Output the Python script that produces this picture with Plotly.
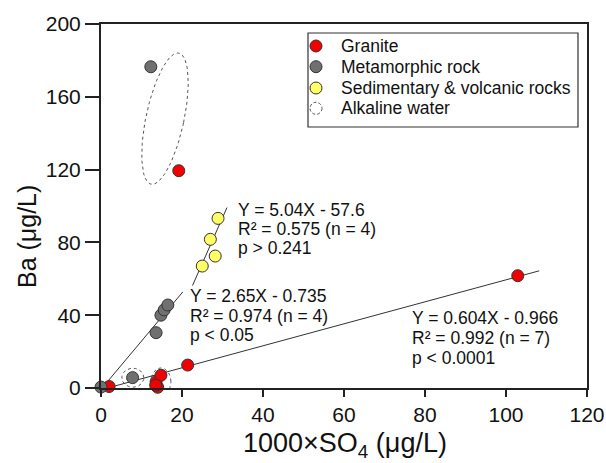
import numpy as np
import plotly.graph_objects as go

# ---------------- data ----------------
granite_x = [2.0, 13.6, 14.0, 14.8, 13.5, 21.4, 102.9, 19.2]
granite_y = [0.8, 3.5, 0.4, 7.0, 1.5, 12.6, 61.7, 119.4]
meta_x = [0.0, 7.8, 13.6, 14.8, 15.6, 16.5, 12.3]
meta_y = [0.5, 5.7, 30.4, 40.0, 42.9, 45.6, 176.5]
sed_x = [28.9, 27.0, 28.2, 25.0]
sed_y = [93.2, 81.7, 72.5, 67.0]

# regression fits: (slope, intercept, x_start, x_end)
fit_granite = (0.604, -0.966, 0.0, 108.2)
fit_meta = (2.65, -0.735, 0.0, 20.2)
fit_sed = (5.04, -57.6, 22.6, 31.1)

eq_granite = ["Y = 0.604X - 0.966", "R² = 0.992 (n = 7)", "p < 0.0001"]
eq_meta = ["Y = 2.65X - 0.735", "R² = 0.974 (n = 4)", "p < 0.05"]
eq_sed = ["Y = 5.04X - 57.6", "R² = 0.575 (n = 4)", "p > 0.241"]

legend_names = ["Granite", "Metamorphic rock", "Sedimentary & volcanic rocks", "Alkaline water"]

x_ticks = [0, 20, 40, 60, 80, 100, 120]
y_ticks = [0, 40, 80, 120, 160, 200]

# alkaline-water ellipses: centre (data), semi-axes (px), tilt (deg)
ellipses = [
    (15.8, 148.0, 19, 67, -12),
    (7.86, 5.66, 11, 9.5, 0),
    (14.8, 3.6, 10, 13.5, 0),
]

# ---------------- layout constants ----------------
W, H = 606, 463
ML, MR, MT, MB = 101, 19, 24, 75
PW, PH = W - ML - MR, H - MT - MB
XR, YR = (0, 120), (0, 200)
sx = PW / (XR[1] - XR[0])
sy = PH / (YR[1] - YR[0])

FONT = "Arial, Liberation Sans, sans-serif"
RED, GRAY, YEL = "#f00000", "#707070", "#ffff66"
EDGE = "#333333"

fig = go.Figure()

# ellipses
for cx, cy, a, b, ang in ellipses:
    t = np.linspace(0, 2 * np.pi, 120)
    th = np.deg2rad(ang)
    px = a * np.cos(t) * np.cos(th) - b * np.sin(t) * np.sin(th)
    py = a * np.cos(t) * np.sin(th) + b * np.sin(t) * np.cos(th)
    fig.add_trace(go.Scatter(x=cx + px / sx, y=cy + py / sy, mode="lines",
                             line=dict(color="#555555", width=1, dash="3px,3px"),
                             showlegend=False, hoverinfo="skip", cliponaxis=False))

# regression lines
for m, c, x0, x1 in (fit_granite, fit_meta, fit_sed):
    xs = np.array([x0, x1])
    fig.add_trace(go.Scatter(x=xs, y=m * xs + c, mode="lines",
                             line=dict(color="#333333", width=1),
                             showlegend=False, hoverinfo="skip", cliponaxis=False))

mk = lambda col: dict(size=12, color=col, line=dict(color=EDGE, width=1))
fig.add_trace(go.Scatter(x=granite_x, y=granite_y, mode="markers", name=legend_names[0],
                         marker=mk(RED), cliponaxis=False, showlegend=False))
fig.add_trace(go.Scatter(x=meta_x, y=meta_y, mode="markers", name=legend_names[1],
                         marker=mk(GRAY), cliponaxis=False, showlegend=False))
fig.add_trace(go.Scatter(x=sed_x, y=sed_y, mode="markers", name=legend_names[2],
                         marker=mk(YEL), cliponaxis=False, showlegend=False))

def px2x(p):
    return (p - ML) / PW

def px2y(p):
    return (H - MB - p) / PH

annotations = []
def add_block(lines, left_px, top_center_px, step=20, size=17.5):
    for i, s in enumerate(lines):
        annotations.append(dict(text=s, x=px2x(left_px), y=px2y(top_center_px + i * step),
                                xref="paper", yref="paper", xanchor="left", yanchor="middle",
                                showarrow=False, font=dict(size=size, color="#111", family=FONT)))

add_block(eq_sed, 236, 210, 19.2)
add_block(eq_meta, 188, 296, 19.5)
add_block(eq_granite, 410, 318, 20)

annotations.append(dict(text="1000×SO<sub>4</sub> (μg/L)", x=px2x(345), y=px2y(445),
                        xref="paper", yref="paper", xanchor="center", yanchor="middle",
                        showarrow=False, font=dict(size=27, color="#111", family=FONT)))
annotations.append(dict(text="Ba (μg/L)", x=px2x(27), y=px2y(237), textangle=-90,
                        xref="paper", yref="paper", xanchor="center", yanchor="middle",
                        showarrow=False, font=dict(size=25, color="#111", family=FONT)))

# manual legend
leg_rows = [46, 66.7, 88, 108.3]
leg_cols = [RED, GRAY, YEL, None]
add_block(legend_names, 339, leg_rows[0], (leg_rows[-1] - leg_rows[0]) / 3, 17.5)

shapes = [
    dict(type="rect", xref="paper", yref="paper", x0=px2x(308), x1=px2x(578),
         y0=px2y(127), y1=px2y(33), line=dict(color="#333", width=1.2)),
]
for r, col in zip(leg_rows, leg_cols):
    if col is None:
        shapes.append(dict(type="circle", xref="paper", yref="paper", xsizemode="pixel",
                           ysizemode="pixel", xanchor=px2x(316), yanchor=px2y(r),
                           x0=-6, x1=6, y0=-6, y1=6,
                           line=dict(color="#555", width=1, dash="3px,2px")))
    else:
        shapes.append(dict(type="circle", xref="paper", yref="paper", xsizemode="pixel",
                           ysizemode="pixel", xanchor=px2x(316), yanchor=px2y(r),
                           x0=-6, x1=6, y0=-6, y1=6, fillcolor=col,
                           line=dict(color=EDGE, width=1)))

axis_common = dict(showline=True, linecolor="#222", linewidth=2, mirror=True,
                   showgrid=False, zeroline=False, ticks="outside", tickcolor="#222",
                   tickwidth=1.5, automargin=False,
                   tickfont=dict(size=21, color="#111", family=FONT))

fig.update_layout(
    width=W, height=H, margin=dict(l=ML, r=MR, t=MT, b=MB),
    paper_bgcolor="white", plot_bgcolor="white",
    font=dict(family=FONT, color="#111"), showlegend=False,
    xaxis=dict(range=XR, tickvals=x_ticks, ticklen=7, **axis_common),
    yaxis=dict(range=YR, tickvals=y_ticks, ticklen=14, **axis_common),
    annotations=annotations, shapes=shapes,
)

fig.write_html("out.html", config={"displayModeBar": False},
               post_script="document.body.style.margin='0';document.body.style.overflow='hidden';")
